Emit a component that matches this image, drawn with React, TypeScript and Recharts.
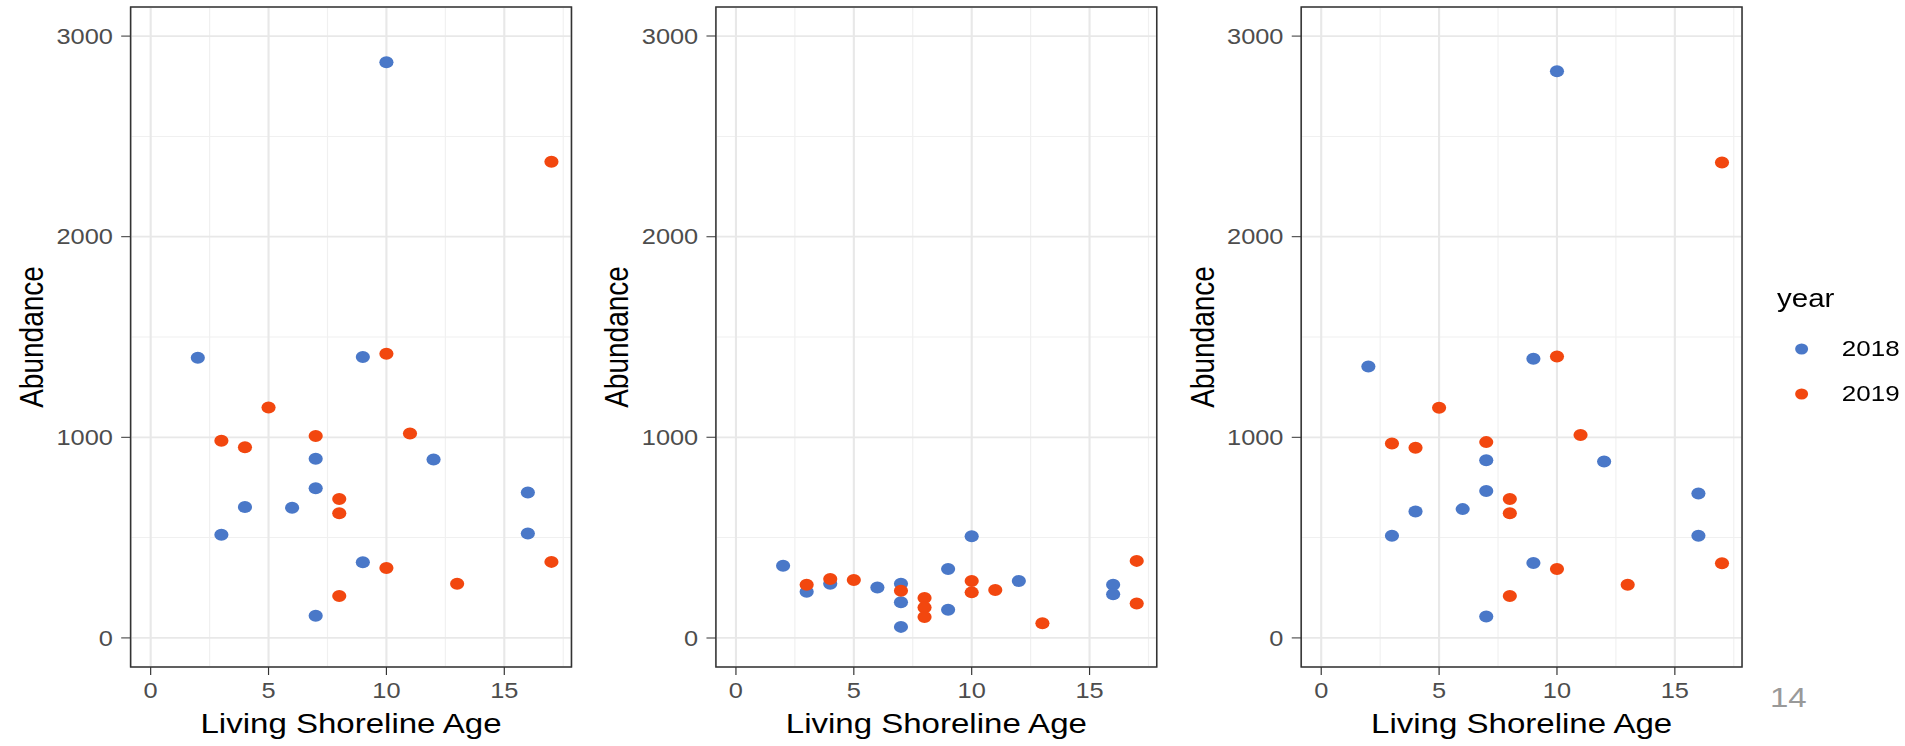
import React from 'react';
import { ScatterChart, Scatter, XAxis, YAxis, CartesianGrid, ReferenceArea, Legend } from 'recharts';

// panel 1
const leftAges2018 = [10, 2, 9, 7, 7, 4, 6, 3, 12, 16, 16, 9, 7];
const leftAbund2018 = [2870, 1396, 1400, 893, 746, 652, 649, 514, 889, 725, 521, 377, 111];
const leftAges2019 = [17, 10, 5, 3, 4, 7, 11, 8, 8, 10, 13, 8, 17];
const leftAbund2019 = [2374, 1417, 1149, 983, 950, 1007, 1019, 692, 621, 348, 270, 209, 379];

// panel 2
const midAges2018 = [2, 3, 4, 6, 7, 7, 7, 9, 9, 10, 12, 16, 16];
const midAbund2018 = [360, 230, 270, 251, 270, 178, 55, 344, 140, 507, 284, 265, 218];
const midAges2019 = [3, 4, 5, 7, 8, 8, 8, 10, 10, 11, 13, 17, 17];
const midAbund2019 = [265, 294, 289, 235, 199, 152, 104, 284, 227, 239, 73, 384, 171];

// panel 3
const rightAges2018 = [10, 2, 9, 7, 7, 4, 6, 3, 12, 16, 16, 9, 7];
const rightAbund2018 = [2825, 1353, 1391, 886, 732, 630, 642, 509, 879, 720, 509, 374, 107];
const rightAges2019 = [17, 10, 5, 3, 4, 7, 11, 8, 8, 10, 13, 8, 17];
const rightAbund2019 = [2370, 1403, 1147, 969, 948, 976, 1012, 692, 621, 344, 265, 209, 372];

const years = ['2018', '2019'];
const xTicks = [0, 5, 10, 15];
const yTicks = [0, 1000, 2000, 3000];
const xMinor = [2.5, 7.5, 12.5, 17.5];
const yMinor = [500, 1500, 2500];

const X_DOMAIN: [number, number] = [-0.85, 17.85];
const Y_DOMAIN: [number, number] = [-145, 3145];
const BLUE = '#4a78c8';
const ORANGE = '#f2470f';
const STRETCH = 1.18; // the slide image is a bit wider than tall
const PANEL_W = 496;
const H = 746;
const FONT = '"Liberation Sans", Arial, Helvetica, sans-serif';

const toPoints = (ages: number[], values: number[]) =>
  ages.map((age, i) => ({ age, abundance: values[i] }));

const dot = (color: string) => (p: any) => <circle cx={p.cx} cy={p.cy} r={6} fill={color} />;

const XTitle = (props: any) => {
  const vb = props.viewBox || props;
  return (
    <text x={vb.x + vb.width / 2} y={vb.y + 66} textAnchor="middle" fontSize={28} fill="#000">
      Living Shoreline Age
    </text>
  );
};

const YTitle = (props: any) => {
  const vb = props.viewBox || props;
  const x = vb.x + 36.4;
  const y = vb.y + vb.height / 2;
  return (
    <text x={x} y={y} transform={`rotate(-90, ${x}, ${y})`} textAnchor="middle" fontSize={28} fill="#000">
      Abundance
    </text>
  );
};

const YearLegend = ({ payload }: any) => (
  <svg width={130} height={140} style={{ overflow: 'visible', fontFamily: FONT }}>
    <text x={0} y={27} fontSize={25} fill="#000">year</text>
    {(payload || []).map((p: any, i: number) => (
      <g key={p.value}>
        <circle cx={20.8} cy={69 + 45 * i} r={5.5} fill={p.color} />
        <text x={54.9} y={76 + 45 * i} fontSize={22} fill="#000">{p.value}</text>
      </g>
    ))}
  </svg>
);

interface PanelProps {
  a2018: { age: number; abundance: number }[];
  a2019: { age: number; abundance: number }[];
  width: number;
  showLegend?: boolean;
}

const Panel: React.FC<PanelProps> = ({ a2018, a2019, width, showLegend }) => (
  <ScatterChart width={width} height={H} margin={{ top: 7, right: width - 484.3, bottom: 0, left: 0 }}>
    <CartesianGrid stroke="#f0f0f0" strokeWidth={1} horizontalValues={yMinor} verticalValues={xMinor} />
    <CartesianGrid stroke="#e8e8e8" strokeWidth={1.8} />
    <XAxis
      type="number"
      dataKey="age"
      domain={X_DOMAIN}
      ticks={xTicks}
      allowDataOverflow
      axisLine={false}
      tickSize={8}
      tickMargin={8}
      tickLine={{ stroke: '#333' }}
      tick={{ fill: '#4d4d4d', fontSize: 21.5 }}
      height={79}
      label={XTitle}
    />
    <YAxis
      type="number"
      dataKey="abundance"
      domain={Y_DOMAIN}
      ticks={yTicks}
      allowDataOverflow
      axisLine={false}
      tickSize={8}
      tickMargin={7}
      tickLine={{ stroke: '#333' }}
      tick={{ fill: '#4d4d4d', fontSize: 21.5 }}
      width={110.7}
      label={YTitle}
    />
    <ReferenceArea
      x1={X_DOMAIN[0]}
      x2={X_DOMAIN[1]}
      y1={Y_DOMAIN[0]}
      y2={Y_DOMAIN[1]}
      fill="none"
      stroke="#333"
      strokeWidth={1.3}
      fillOpacity={0}
    />
    <Scatter name={years[0]} data={a2018} fill={BLUE} shape={dot(BLUE)} isAnimationActive={false} />
    <Scatter name={years[1]} data={a2019} fill={ORANGE} shape={dot(ORANGE)} isAnimationActive={false} />
    {showLegend && (
      <Legend
        layout="horizontal"
        verticalAlign="middle"
        align="center"
        wrapperStyle={{ left: 513.7, top: 280, width: 130, height: 140 }}
        content={YearLegend}
      />
    )}
  </ScatterChart>
);

export default function App() {
  const totalW = 1905 / STRETCH;
  return (
    <div
      style={{
        position: 'absolute',
        left: 0,
        top: 0,
        width: totalW,
        height: H,
        background: '#fff',
        fontFamily: FONT,
        transform: `scaleX(${STRETCH})`,
        transformOrigin: '0 0',
      }}
    >
      <div style={{ position: 'absolute', left: 0, top: 0 }}>
        <Panel a2018={toPoints(leftAges2018, leftAbund2018)} a2019={toPoints(leftAges2019, leftAbund2019)} width={PANEL_W} />
      </div>
      <div style={{ position: 'absolute', left: PANEL_W, top: 0 }}>
        <Panel a2018={toPoints(midAges2018, midAbund2018)} a2019={toPoints(midAges2019, midAbund2019)} width={PANEL_W} />
      </div>
      <div style={{ position: 'absolute', left: PANEL_W * 2, top: 0 }}>
        <Panel
          a2018={toPoints(rightAges2018, rightAbund2018)}
          a2019={toPoints(rightAges2019, rightAbund2019)}
          width={totalW - PANEL_W * 2}
          showLegend
        />
      </div>
      <svg style={{ position: 'absolute', left: 1495, top: 670 }} width={60} height={50}>
        <text x={5} y={37} fontSize={28} fill="#999">14</text>
      </svg>
    </div>
  );
}
